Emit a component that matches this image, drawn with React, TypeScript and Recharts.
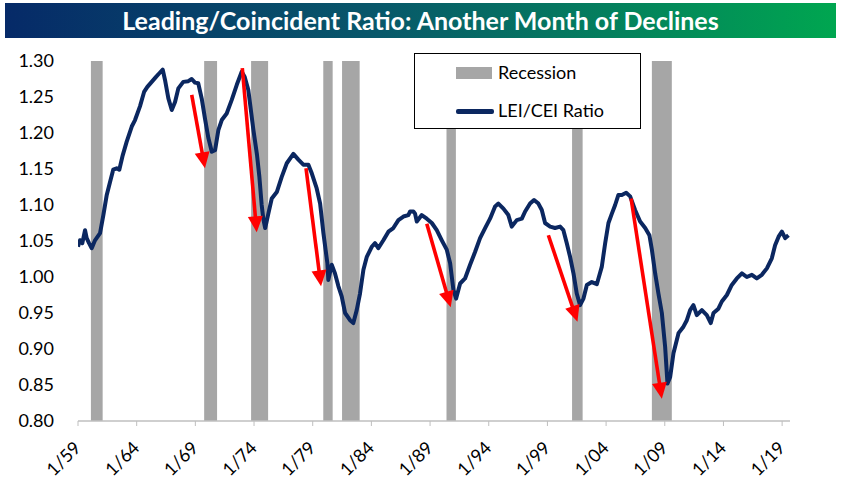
import React from "react";
import {
  Legend,
  Line,
  LineChart,
  ReferenceArea,
  ReferenceLine,
  XAxis,
  YAxis,
} from "recharts";

// decimal years
const dates = [
  1959.0, 1959.17, 1959.37, 1959.6, 1959.74, 1959.94, 1960.17, 1960.45, 1960.88,
  1961.16, 1961.45, 1961.73, 1962.0, 1962.3, 1962.52, 1962.81, 1963.15, 1963.58,
  1963.86, 1964.28, 1964.63, 1964.91, 1965.28, 1965.65, 1965.93, 1966.22,
  1966.41, 1966.7, 1966.99, 1967.27, 1967.55, 1967.97, 1968.4, 1968.69, 1968.97,
  1969.25, 1969.54, 1969.82, 1970.11, 1970.4, 1970.68, 1970.96, 1971.25,
  1971.67, 1972.1, 1972.53, 1972.95, 1973.2, 1973.51, 1973.94, 1974.25, 1974.45,
  1974.65, 1974.8, 1974.95, 1975.22, 1975.51, 1975.94, 1976.36, 1976.79,
  1977.35, 1977.78, 1978.2, 1978.63, 1978.92, 1979.34, 1979.63, 1979.91,
  1980.25, 1980.33, 1980.62, 1980.9, 1981.19, 1981.47, 1981.76, 1982.18,
  1982.46, 1982.75, 1983.03, 1983.32, 1983.61, 1984.03, 1984.31, 1984.59,
  1985.02, 1985.45, 1985.87, 1986.3, 1986.73, 1987.15, 1987.3, 1987.58,
  1987.72, 1987.87, 1988.29, 1988.72, 1989.15, 1989.57, 1990.0, 1990.42,
  1990.71, 1990.99, 1991.22, 1991.56, 1991.98, 1992.41, 1992.84, 1993.26,
  1993.69, 1994.11, 1994.54, 1994.82, 1995.25, 1995.67, 1995.96, 1996.39,
  1996.82, 1997.1, 1997.52, 1997.86, 1998.23, 1998.52, 1998.8, 1999.23,
  1999.65, 2000.08, 2000.36, 2000.65, 2000.93, 2001.22, 2001.5, 2001.78,
  2002.07, 2002.36, 2002.78, 2003.21, 2003.63, 2003.92, 2004.2, 2004.49,
  2004.77, 2005.05, 2005.34, 2005.71, 2006.05, 2006.47, 2006.9, 2007.33,
  2007.69, 2007.9, 2008.18, 2008.46, 2008.75, 2009.03, 2009.23, 2009.46,
  2009.74, 2010.17, 2010.59, 2010.88, 2011.16, 2011.44, 2011.73, 2012.16,
  2012.58, 2012.92, 2013.15, 2013.57, 2013.86, 2014.29, 2014.71, 2015.14,
  2015.57, 2015.99, 2016.42, 2016.84, 2017.27, 2017.7, 2018.12, 2018.4,
  2018.7, 2018.98, 2019.26, 2019.54,
];

const ratio = [
  1.042, 1.051, 1.047, 1.065, 1.054, 1.047, 1.04, 1.051, 1.061,
  1.086, 1.114, 1.132, 1.149, 1.151, 1.149, 1.169, 1.188, 1.209,
  1.218, 1.237, 1.257, 1.264, 1.271, 1.278, 1.283, 1.288,
  1.274, 1.248, 1.232, 1.243, 1.262, 1.271, 1.272, 1.275, 1.27,
  1.269, 1.248, 1.22, 1.193, 1.174, 1.176, 1.204, 1.218,
  1.227, 1.246, 1.267, 1.285, 1.278, 1.26, 1.205, 1.17, 1.14,
  1.1, 1.08, 1.068, 1.088, 1.109, 1.118, 1.139, 1.158,
  1.171, 1.163, 1.156, 1.156, 1.144, 1.123, 1.102, 1.061,
  1.019, 0.996, 1.017, 1.005, 0.987, 0.973, 0.95, 0.94,
  0.936, 0.954, 0.977, 1.01, 1.028, 1.042, 1.047, 1.04,
  1.051, 1.063, 1.068, 1.079, 1.084, 1.086, 1.091, 1.091,
  1.088, 1.077, 1.086, 1.081, 1.075, 1.065, 1.051, 1.038,
  1.019, 0.982, 0.97, 0.991, 0.998, 1.017, 1.035, 1.054,
  1.068, 1.081, 1.098, 1.102, 1.095, 1.086, 1.07, 1.079,
  1.081, 1.091, 1.102, 1.107, 1.102, 1.093, 1.075, 1.07,
  1.068, 1.07, 1.065, 1.047, 1.028, 1.005, 0.977, 0.961,
  0.97, 0.989, 0.993, 0.99, 1.014, 1.047, 1.075, 1.088,
  1.1, 1.114, 1.114, 1.117, 1.112, 1.093, 1.077, 1.068,
  1.058, 1.038, 1.005, 0.977, 0.95, 0.903, 0.852, 0.861,
  0.894, 0.922, 0.931, 0.94, 0.954, 0.961, 0.947, 0.954,
  0.947, 0.936, 0.95, 0.956, 0.966, 0.975, 0.989, 0.998,
  1.005, 1.0, 1.003, 0.998, 1.003, 1.012, 1.026, 1.044, 1.056,
  1.063, 1.054, 1.058, 1.054,
];

const recessionStart = [1960.1, 1969.75, 1973.75, 1979.9, 1981.5, 1990.4, 2001.1, 2007.9];
const recessionEnd = [1961.1, 1970.85, 1975.2, 1980.7, 1983.0, 1991.2, 2002.0, 2009.6];

// red arrows: start (year, value) -> end (year, value)
const arrowStartX = [1968.69, 1973.0, 1978.43, 1988.72, 1999.08, 2006.13];
const arrowStartY = [1.253, 1.29, 1.151, 1.074, 1.058, 1.109];
const arrowEndX = [1969.82, 1974.23, 1979.71, 1990.76, 2001.56, 2008.75];
const arrowEndY = [1.151, 1.062, 0.987, 0.958, 0.938, 0.831];

const xTicks = [1959, 1964, 1969, 1974, 1979, 1984, 1989, 1994, 1999, 2004, 2009, 2014, 2019];
const yTicks = [0.8, 0.85, 0.9, 0.95, 1.0, 1.05, 1.1, 1.15, 1.2, 1.25, 1.3];

const data = dates.map((d, i) => ({ date: d, ratio: ratio[i] }));

const FONT = "Lato, 'DejaVu Sans', sans-serif";
const NAVY = "#0b2760";
const GRAY = "#a6a6a6";

function Arrow(props: any) {
  const { x1, y1, x2, y2 } = props;
  const dx = x2 - x1;
  const dy = y2 - y1;
  const len = Math.sqrt(dx * dx + dy * dy);
  const ux = dx / len;
  const uy = dy / len;
  const headLen = 16;
  const headW = 7.5;
  const bx = x2 - ux * headLen;
  const by = y2 - uy * headLen;
  const pts = `${x2},${y2} ${bx - uy * headW},${by + ux * headW} ${bx + uy * headW},${by - ux * headW}`;
  return (
    <g>
      <line x1={x1} y1={y1} x2={bx + ux * 2} y2={by + uy * 2} stroke="#ff0000" strokeWidth={3.6} />
      <polygon points={pts} fill="#ff0000" />
    </g>
  );
}

function XTick(props: any) {
  const { x, y, payload } = props;
  const ax = x + 4;
  const ay = y + 23;
  return (
    <text
      x={ax}
      y={ay}
      transform={`rotate(-45 ${ax} ${ay})`}
      textAnchor="end"
      fontSize={18}
      fontFamily={FONT}
      fill="#000"
    >
      {`1/${String(payload.value).slice(2)}`}
    </text>
  );
}

function LegendBox() {
  return (
    <div
      style={{
        position: "relative",
        width: 227,
        height: 76,
        boxSizing: "border-box",
        border: "1.5px solid #000",
        background: "#fff",
        fontFamily: FONT,
        fontSize: 18,
        color: "#000",
      }}
    >
      <div style={{ position: "absolute", left: 41, top: 13, width: 36, height: 12, background: GRAY }} />
      <div style={{ position: "absolute", left: 83, top: 6, lineHeight: "24px" }}>Recession</div>
      <div style={{ position: "absolute", left: 41, top: 55, width: 38, height: 4.5, background: NAVY, borderRadius: 2 }} />
      <div style={{ position: "absolute", left: 83, top: 44, lineHeight: "24px" }}>LEI/CEI Ratio</div>
    </div>
  );
}

export default function App() {
  return (
    <div
      style={{
        position: "absolute",
        left: 0,
        top: 0,
        width: 844,
        height: 479,
        background: "#fff",
        fontFamily: FONT,
      }}
    >
      <div
        style={{
          position: "absolute",
          left: 5,
          top: 3,
          width: 831,
          height: 35,
          background: "linear-gradient(to right, #062a68 0%, #08586a 45%, #00a650 100%)",
          color: "#fff",
          fontWeight: 700,
          fontSize: 25,
          lineHeight: "35px",
          textAlign: "center",
        }}
      >
        Leading/Coincident Ratio: Another Month of Declines
      </div>
      <div style={{ position: "absolute", left: 0, top: 0 }}>
        <LineChart
          width={844}
          height={479}
          data={data}
          margin={{ top: 61, right: 54, bottom: 8, left: 18 }}
        >
          <XAxis
            dataKey="date"
            type="number"
            domain={[1959, 2019.67]}
            ticks={xTicks}
            allowDataOverflow
            height={50}
            tickSize={5}
            tickMargin={0}
            axisLine={{ stroke: "#bfbfbf", strokeWidth: 1.5 }}
            tickLine={{ stroke: "#bfbfbf" }}
            tick={<XTick />}
            interval={0}
          />
          <YAxis
            type="number"
            domain={[0.8, 1.3]}
            ticks={yTicks}
            width={60}
            axisLine={false}
            tickLine={false}
            tickMargin={18}
            interval={0}
            tickFormatter={(v: number) => v.toFixed(2)}
            tick={{ fill: "#000", fontSize: 18, fontFamily: FONT }}
          />
          {recessionStart.map((s, i) => (
            <ReferenceArea
              key={`rec-${i}`}
              x1={s}
              x2={recessionEnd[i]}
              y1={0.8}
              y2={1.3}
              fill={GRAY}
              fillOpacity={1}
              stroke="none"
            />
          ))}
          <Line
            type="linear"
            dataKey="ratio"
            stroke={NAVY}
            strokeWidth={4}
            strokeLinejoin="round"
            dot={false}
            isAnimationActive={false}
          />
          {arrowStartX.map((s, i) => (
            <ReferenceLine
              key={`arr-${i}`}
              segment={[
                { x: s, y: arrowStartY[i] },
                { x: arrowEndX[i], y: arrowEndY[i] },
              ]}
              shape={Arrow}
            />
          ))}
          <Legend
            layout="vertical"
            align="center"
            verticalAlign="middle"
            content={() => <LegendBox />}
            wrapperStyle={{ left: 414, top: 53, width: 227, height: 76 }}
          />
        </LineChart>
      </div>
    </div>
  );
}
